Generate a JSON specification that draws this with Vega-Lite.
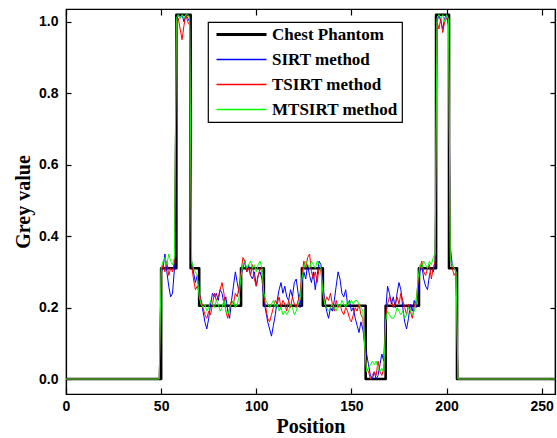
{
  "$schema": "https://vega.github.io/schema/vega-lite/v6.json",
  "autosize": {"type": "none"},
  "width": 489,
  "height": 385,
  "padding": {"left": 66, "top": 9, "right": 2, "bottom": 44},
  "background": "white",
  "config": {
    "view": {"stroke": "black", "strokeWidth": 1.2},
    "axis": {
      "grid": false, "domainColor": "black", "domainWidth": 1.2, "tickColor": "black", "tickWidth": 1.2,
      "labelColor": "black", "titleColor": "black", "labelFont": "Liberation Sans", "labelFontWeight": "bold",
      "labelFontSize": 14, "titleFont": "Liberation Serif", "titleFontWeight": "bold", "titleFontSize": 20
    }
  },
  "datasets": {
    "phantom": [
      {"x": 0, "y": 0}, {"x": 50, "y": 0.31}, {"x": 58, "y": 1.02}, {"x": 65.5, "y": 0.31}, {"x": 70, "y": 0.205},
      {"x": 92, "y": 0.31}, {"x": 104, "y": 0.205}, {"x": 124, "y": 0.31}, {"x": 135, "y": 0.205}, {"x": 157.5, "y": 0},
      {"x": 168, "y": 0.205}, {"x": 185.5, "y": 0.31}, {"x": 194.5, "y": 1.02}, {"x": 201.3, "y": 0.31}, {"x": 205.5, "y": 0},
      {"x": 257, "y": 0}
    ],
    "recon": [
      {"x":0,"a":0,"b":0,"c":0},{"x":49,"a":0,"b":0,"c":0},
      {"x":50,"a":0.30,"b":0.30,"c":0.31},{"x":51,"a":0.31,"b":0.32,"c":0.33},{"x":52,"a":0.35,"b":0.30,"c":0.34},
      {"x":53,"a":0.30,"b":0.33,"c":0.32},{"x":54,"a":0.26,"b":0.29,"c":0.35},{"x":55,"a":0.23,"b":0.31,"c":0.33},
      {"x":56,"a":0.24,"b":0.30,"c":0.32},{"x":57,"a":0.31,"b":0.33,"c":0.34},{"x":58,"a":1.0,"b":1.0,"c":1.01},
      {"x":59,"a":1.02,"b":1.01,"c":1.02},{"x":60,"a":1.01,"b":0.98,"c":1.01},{"x":61,"a":1.02,"b":0.95,"c":1.02},
      {"x":62,"a":1.0,"b":0.99,"c":1.01},{"x":63,"a":1.02,"b":1.02,"c":1.02},{"x":64,"a":1.01,"b":1.0,"c":1.02},
      {"x":65,"a":1.0,"b":0.99,"c":1.01},{"x":66,"a":0.33,"b":0.32,"c":0.33},{"x":67,"a":0.30,"b":0.28,"c":0.31},
      {"x":68,"a":0.27,"b":0.25,"c":0.30},{"x":69,"a":0.29,"b":0.26,"c":0.29},{"x":70,"a":0.24,"b":0.24,"c":0.23},
      {"x":71,"a":0.22,"b":0.22,"c":0.21},{"x":72,"a":0.19,"b":0.20,"c":0.20},{"x":73,"a":0.16,"b":0.18,"c":0.21},
      {"x":74,"a":0.14,"b":0.17,"c":0.19},{"x":75,"a":0.17,"b":0.19,"c":0.20},{"x":76,"a":0.21,"b":0.18,"c":0.22},
      {"x":77,"a":0.24,"b":0.21,"c":0.21},{"x":78,"a":0.23,"b":0.24,"c":0.20},{"x":79,"a":0.24,"b":0.22,"c":0.22},
      {"x":80,"a":0.22,"b":0.23,"c":0.21},{"x":81,"a":0.25,"b":0.25,"c":0.19},{"x":82,"a":0.24,"b":0.27,"c":0.20},
      {"x":83,"a":0.21,"b":0.24,"c":0.22},{"x":84,"a":0.23,"b":0.19,"c":0.19},{"x":85,"a":0.19,"b":0.17,"c":0.18},
      {"x":86,"a":0.17,"b":0.20,"c":0.20},{"x":87,"a":0.22,"b":0.22,"c":0.21},{"x":88,"a":0.26,"b":0.21,"c":0.22},
      {"x":89,"a":0.30,"b":0.24,"c":0.20},{"x":90,"a":0.27,"b":0.23,"c":0.21},{"x":91,"a":0.24,"b":0.26,"c":0.23},
      {"x":92,"a":0.29,"b":0.30,"c":0.29},{"x":93,"a":0.31,"b":0.34,"c":0.32},{"x":94,"a":0.33,"b":0.33,"c":0.33},
      {"x":95,"a":0.30,"b":0.30,"c":0.31},{"x":96,"a":0.32,"b":0.31,"c":0.32},{"x":97,"a":0.29,"b":0.29,"c":0.33},
      {"x":98,"a":0.28,"b":0.32,"c":0.31},{"x":99,"a":0.30,"b":0.28,"c":0.32},{"x":100,"a":0.26,"b":0.26,"c":0.30},
      {"x":101,"a":0.29,"b":0.29,"c":0.32},{"x":102,"a":0.30,"b":0.31,"c":0.33},{"x":103,"a":0.28,"b":0.30,"c":0.31},
      {"x":104,"a":0.22,"b":0.23,"c":0.24},{"x":105,"a":0.19,"b":0.20,"c":0.22},{"x":106,"a":0.16,"b":0.17,"c":0.21},
      {"x":107,"a":0.14,"b":0.16,"c":0.20},{"x":108,"a":0.12,"b":0.18,"c":0.21},{"x":109,"a":0.15,"b":0.20,"c":0.22},
      {"x":110,"a":0.18,"b":0.22,"c":0.20},{"x":111,"a":0.22,"b":0.21,"c":0.21},{"x":112,"a":0.25,"b":0.23,"c":0.19},
      {"x":113,"a":0.27,"b":0.20,"c":0.20},{"x":114,"a":0.24,"b":0.22,"c":0.18},{"x":115,"a":0.26,"b":0.21,"c":0.19},
      {"x":116,"a":0.23,"b":0.19,"c":0.18},{"x":117,"a":0.22,"b":0.22,"c":0.19},{"x":118,"a":0.25,"b":0.20,"c":0.21},
      {"x":119,"a":0.23,"b":0.23,"c":0.20},{"x":120,"a":0.27,"b":0.21,"c":0.18},{"x":121,"a":0.28,"b":0.20,"c":0.19},
      {"x":122,"a":0.24,"b":0.22,"c":0.21},{"x":123,"a":0.20,"b":0.24,"c":0.22},{"x":124,"a":0.27,"b":0.29,"c":0.28},
      {"x":125,"a":0.30,"b":0.33,"c":0.31},{"x":126,"a":0.28,"b":0.31,"c":0.33},{"x":127,"a":0.32,"b":0.34,"c":0.32},
      {"x":128,"a":0.29,"b":0.35,"c":0.31},{"x":129,"a":0.27,"b":0.30,"c":0.33},{"x":130,"a":0.30,"b":0.28,"c":0.32},
      {"x":131,"a":0.25,"b":0.30,"c":0.31},{"x":132,"a":0.29,"b":0.27,"c":0.33},{"x":133,"a":0.33,"b":0.31,"c":0.32},
      {"x":134,"a":0.32,"b":0.30,"c":0.31},{"x":135,"a":0.26,"b":0.25,"c":0.24},{"x":136,"a":0.22,"b":0.21,"c":0.21},
      {"x":137,"a":0.19,"b":0.23,"c":0.20},{"x":138,"a":0.17,"b":0.22,"c":0.19},{"x":139,"a":0.20,"b":0.24,"c":0.20},
      {"x":140,"a":0.19,"b":0.21,"c":0.21},{"x":141,"a":0.22,"b":0.19,"c":0.20},{"x":142,"a":0.26,"b":0.22,"c":0.19},
      {"x":143,"a":0.30,"b":0.20,"c":0.21},{"x":144,"a":0.28,"b":0.21,"c":0.20},{"x":145,"a":0.24,"b":0.19,"c":0.22},
      {"x":146,"a":0.23,"b":0.18,"c":0.21},{"x":147,"a":0.25,"b":0.20,"c":0.20},{"x":148,"a":0.21,"b":0.19,"c":0.22},
      {"x":149,"a":0.22,"b":0.17,"c":0.21},{"x":150,"a":0.19,"b":0.16,"c":0.22},{"x":151,"a":0.20,"b":0.18,"c":0.21},
      {"x":152,"a":0.17,"b":0.20,"c":0.22},{"x":153,"a":0.15,"b":0.19,"c":0.22},{"x":154,"a":0.13,"b":0.21,"c":0.21},
      {"x":155,"a":0.16,"b":0.18,"c":0.20},{"x":156,"a":0.14,"b":0.17,"c":0.19},{"x":157,"a":0.10,"b":0.08,"c":0.09},
      {"x":158,"a":0.07,"b":0.03,"c":0.02},{"x":159,"a":0.04,"b":0.02,"c":0.03},{"x":160,"a":0.01,"b":0.0,"c":0.04},
      {"x":161,"a":0.0,"b":0.01,"c":0.05},{"x":162,"a":0.02,"b":0.02,"c":0.04},{"x":163,"a":0.0,"b":0.01,"c":0.05},
      {"x":164,"a":0.01,"b":0.05,"c":0.03},{"x":165,"a":0.04,"b":0.02,"c":0.02},{"x":166,"a":0.07,"b":0.01,"c":0.03},
      {"x":167,"a":0.05,"b":0.03,"c":0.02},{"x":168,"a":0.19,"b":0.17,"c":0.16},{"x":169,"a":0.26,"b":0.21,"c":0.19},
      {"x":170,"a":0.24,"b":0.23,"c":0.18},{"x":171,"a":0.21,"b":0.22,"c":0.17},{"x":172,"a":0.23,"b":0.20,"c":0.17},
      {"x":173,"a":0.20,"b":0.21,"c":0.18},{"x":174,"a":0.24,"b":0.23,"c":0.20},{"x":175,"a":0.27,"b":0.21,"c":0.19},
      {"x":176,"a":0.25,"b":0.24,"c":0.18},{"x":177,"a":0.20,"b":0.22,"c":0.19},{"x":178,"a":0.16,"b":0.20,"c":0.17},
      {"x":179,"a":0.14,"b":0.18,"c":0.18},{"x":180,"a":0.17,"b":0.21,"c":0.20},{"x":181,"a":0.21,"b":0.19,"c":0.19},
      {"x":182,"a":0.19,"b":0.17,"c":0.18},{"x":183,"a":0.22,"b":0.20,"c":0.19},{"x":184,"a":0.20,"b":0.22,"c":0.21},
      {"x":185,"a":0.24,"b":0.27,"c":0.28},{"x":186,"a":0.30,"b":0.31,"c":0.32},{"x":187,"a":0.32,"b":0.33,"c":0.31},
      {"x":188,"a":0.28,"b":0.30,"c":0.33},{"x":189,"a":0.26,"b":0.29,"c":0.32},{"x":190,"a":0.25,"b":0.31,"c":0.31},
      {"x":191,"a":0.29,"b":0.32,"c":0.33},{"x":192,"a":0.31,"b":0.28,"c":0.32},{"x":193,"a":0.30,"b":0.31,"c":0.34},
      {"x":194,"a":0.33,"b":0.33,"c":0.35},{"x":195,"a":1.0,"b":1.0,"c":1.01},{"x":196,"a":1.02,"b":0.98,"c":1.02},
      {"x":197,"a":1.0,"b":1.01,"c":1.01},{"x":198,"a":0.98,"b":0.97,"c":1.02},{"x":199,"a":1.01,"b":1.0,"c":1.0},
      {"x":200,"a":1.02,"b":1.01,"c":1.02},{"x":201,"a":0.99,"b":1.0,"c":1.01},{"x":202,"a":0.37,"b":0.34,"c":0.33},
      {"x":203,"a":0.32,"b":0.31,"c":0.32},{"x":204,"a":0.31,"b":0.29,"c":0.31},{"x":205,"a":0.30,"b":0.30,"c":0.30},
      {"x":206,"a":0,"b":0,"c":0},{"x":257,"a":0,"b":0,"c":0}
    ]
  },
  "resolve": {"axis": {"x": "independent", "y": "independent"}},
  "layer": [
    {
      "data": {"name": "phantom"},
      "mark": {"type": "line", "interpolate": "step-after", "strokeWidth": 2.6, "strokeJoin": "round"},
      "encoding": {
        "x": {"field": "x", "type": "quantitative", "scale": {"domain": [0, 257], "nice": false, "zero": false},
          "axis": {"orient": "bottom", "title": "Position", "values": [0, 50, 100, 150, 200, 250], "tickSize": -6, "labelPadding": 11, "titlePadding": 3, "labelFlush": false}},
        "y": {"field": "y", "type": "quantitative", "scale": {"domain": [-0.042, 1.036], "nice": false, "zero": false},
          "axis": {"orient": "left", "title": "Grey value", "values": [0, 0.2, 0.4, 0.6, 0.8, 1.0], "format": ".1f", "tickSize": -5, "labelPadding": 13, "titlePadding": 5}},
        "color": {"datum": "Chest Phantom", "type": "nominal",
          "scale": {"domain": ["Chest Phantom", "SIRT method", "TSIRT method", "MTSIRT method"], "range": ["#000000", "#0000ff", "#ff0000", "#00ff00"]},
          "legend": {"orient": "none", "legendX": 142, "legendY": 13, "title": null, "symbolType": "stroke", "symbolSize": 2500,
            "symbolOffset": 21,
            "labelFont": "Liberation Serif", "labelFontWeight": "bold", "labelFontSize": 17, "labelColor": "black", "labelLimit": 300,
            "strokeColor": "black", "fillColor": "white", "padding": 4, "rowPadding": 7, "labelOffset": 22,
            "encode": {
              "symbols": {"update": {"shape": {"value": "M-1,0L1,0"}, "size": {"value": 2500}, "fill": {"value": "transparent"}, "stroke": {"scale": "color", "field": "value"}, "opacity": {"value": 1}, "strokeOpacity": {"value": 1}, "strokeWidth": {"signal": "datum.value === 'Chest Phantom' ? 3 : 1.5"}}},
              "legend": {"update": {"strokeWidth": {"value": 1.2}}}
            }}
        }
      }
    },
    {
      "data": {"name": "recon"},
      "mark": {"type": "line", "strokeWidth": 1},
      "encoding": {
        "x": {"field": "x", "type": "quantitative", "axis": {"orient": "top", "labels": false, "title": null, "values": [0, 50, 100, 150, 200, 250], "tickSize": -6}},
        "y": {"field": "a", "type": "quantitative", "axis": {"orient": "right", "labels": false, "title": null, "values": [0, 0.2, 0.4, 0.6, 0.8, 1.0], "tickSize": -5}},
        "color": {"datum": "SIRT method", "type": "nominal"}
      }
    },
    {
      "data": {"name": "recon"},
      "mark": {"type": "line", "strokeWidth": 1},
      "encoding": {
        "x": {"field": "x", "type": "quantitative", "axis": null},
        "y": {"field": "b", "type": "quantitative", "axis": null},
        "color": {"datum": "TSIRT method", "type": "nominal"}
      }
    },
    {
      "data": {"name": "recon"},
      "mark": {"type": "line", "strokeWidth": 1},
      "encoding": {
        "x": {"field": "x", "type": "quantitative", "axis": null},
        "y": {"field": "c", "type": "quantitative", "axis": null},
        "color": {"datum": "MTSIRT method", "type": "nominal"}
      }
    }
  ]
}
